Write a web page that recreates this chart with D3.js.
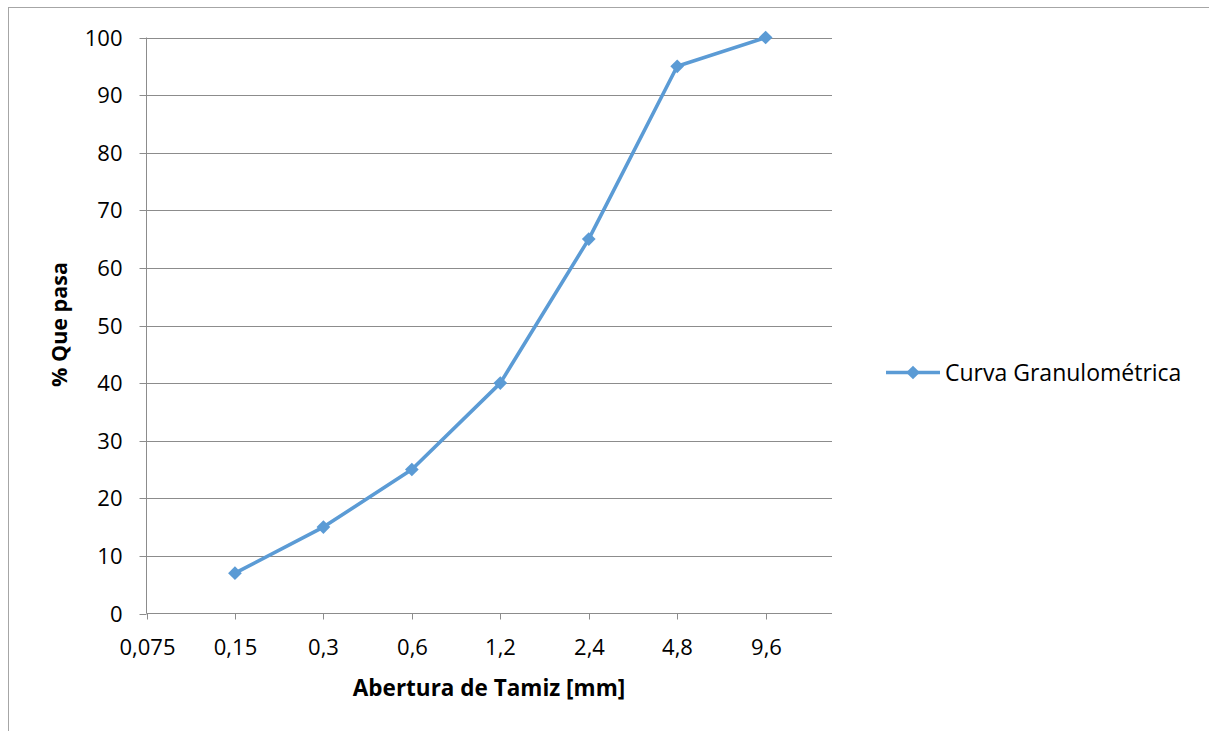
<!DOCTYPE html>
<html>
<head>
<meta charset="utf-8">
<script src="https://cdn.jsdelivr.net/npm/d3@7"></script>
<style>
  html, body { margin: 0; padding: 0; background: #fff; }
  svg { display: block; }
  text { font-family: "Open Sans", "Noto Sans", sans-serif; fill: #000; }
</style>
</head>
<body>
<svg id="chart" width="1209" height="731"></svg>
<script>
// Sieve openings (mm) and cumulative percent passing
const sieveTicks = [0.075, 0.15, 0.3, 0.6, 1.2, 2.4, 4.8, 9.6];
const tickLabels = ["0,075", "0,15", "0,3", "0,6", "1,2", "2,4", "4,8", "9,6"];
const openings = [0.15, 0.3, 0.6, 1.2, 2.4, 4.8, 9.6];
const percentPassing = [7, 15, 25, 40, 65, 95, 100];
const yTicks = [0, 10, 20, 30, 40, 50, 60, 70, 80, 90, 100];
const seriesName = "Curva Granulométrica";
const xTitle = "Abertura de Tamiz [mm]";
const yTitle = "% Que pasa";

const color = "#5B9BD5";
const gridColor = "#8c8c8c";

const svg = d3.select("#chart");

// outer chart frame
svg.append("rect")
  .attr("x", 8.5).attr("y", 7.5)
  .attr("width", 1300).attr("height", 800)
  .attr("fill", "none").attr("stroke", "#a6a6a6").attr("stroke-width", 1);

const plot = { left: 146.5, right: 832, top: 37.5, bottom: 613.5 };

// log-2 spacing: each doubling of the opening takes one equal step
const step = 88.45;
const x = d3.scaleLog().base(2)
  .domain([0.075, 0.075 * Math.pow(2, (plot.right - plot.left) / step)])
  .range([plot.left, plot.right]);
const y = d3.scaleLinear().domain([0, 100]).range([plot.bottom, plot.top]);

// horizontal gridlines
svg.append("g")
  .selectAll("line")
  .data(yTicks.filter(d => d > 0))
  .join("line")
  .attr("x1", plot.left).attr("x2", plot.right)
  .attr("y1", d => Math.round(y(d)) + 0.5).attr("y2", d => Math.round(y(d)) + 0.5)
  .attr("stroke", gridColor).attr("stroke-width", 1);

// y axis
const yAxis = d3.axisLeft(y).tickValues(yTicks).tickSize(7).tickPadding(17).tickFormat(d3.format("d"));
const gy = svg.append("g").attr("transform", `translate(${plot.left},0)`).call(yAxis);
gy.select(".domain").attr("stroke", gridColor).attr("d", `M0,${plot.top}V${plot.bottom}`);
gy.selectAll(".tick line").attr("stroke", gridColor);
gy.selectAll(".tick").attr("transform", d => `translate(0,${Math.round(y(d)) + 0.5})`);
gy.selectAll(".tick text").style("font-size", "22px").attr("fill", "#000")
  .style("font-family", '"Open Sans", sans-serif');

// x axis
const xAxis = d3.axisBottom(x).tickValues(sieveTicks).tickSize(6).tickPadding(20)
  .tickFormat((d, i) => tickLabels[i]);
const gx = svg.append("g").attr("transform", `translate(0,${plot.bottom})`).call(xAxis);
gx.select(".domain").attr("stroke", gridColor).attr("d", `M${plot.left},0H${plot.right}`);
gx.selectAll(".tick line").attr("stroke", gridColor);
gx.selectAll(".tick").attr("transform", d => `translate(${Math.round(x(d)) + 0.5},0)`);
gx.selectAll(".tick text").style("font-size", "22px").attr("fill", "#000")
  .style("font-family", '"Open Sans", sans-serif');

// series line
const pts = openings.map((o, i) => [o, percentPassing[i]]);
svg.append("path")
  .datum(pts)
  .attr("fill", "none")
  .attr("stroke", color)
  .attr("stroke-width", 3.6)
  .attr("stroke-linejoin", "round")
  .attr("d", d3.line().x(d => x(d[0])).y(d => y(d[1])));

// diamond markers
const diamond = d3.symbol().type(d3.symbolDiamond2).size(120);
svg.append("g")
  .selectAll("path")
  .data(pts)
  .join("path")
  .attr("transform", d => `translate(${x(d[0])},${y(d[1])})`)
  .attr("d", diamond)
  .attr("fill", color);

// axis titles
svg.append("text")
  .attr("x", 489)
  .attr("y", 696)
  .attr("text-anchor", "middle")
  .style("font-size", "22.5px").style("font-weight", "bold")
  .text(xTitle);

svg.append("text")
  .attr("transform", `translate(67,${(plot.top + plot.bottom) / 2 - 1}) rotate(-90)`)
  .attr("text-anchor", "middle")
  .style("font-size", "21.5px").style("font-weight", "bold")
  .text(yTitle);

// legend
const lg = svg.append("g").attr("transform", "translate(886,372.5)");
lg.append("line").attr("x1", 0).attr("x2", 54).attr("y1", 0).attr("y2", 0)
  .attr("stroke", color).attr("stroke-width", 3.6);
lg.append("path").attr("transform", "translate(27,0)").attr("d", diamond).attr("fill", color);
lg.append("text").attr("x", 59).attr("y", 8)
  .style("font-size", "23px")
  .text(seriesName);
</script>
</body>
</html>
